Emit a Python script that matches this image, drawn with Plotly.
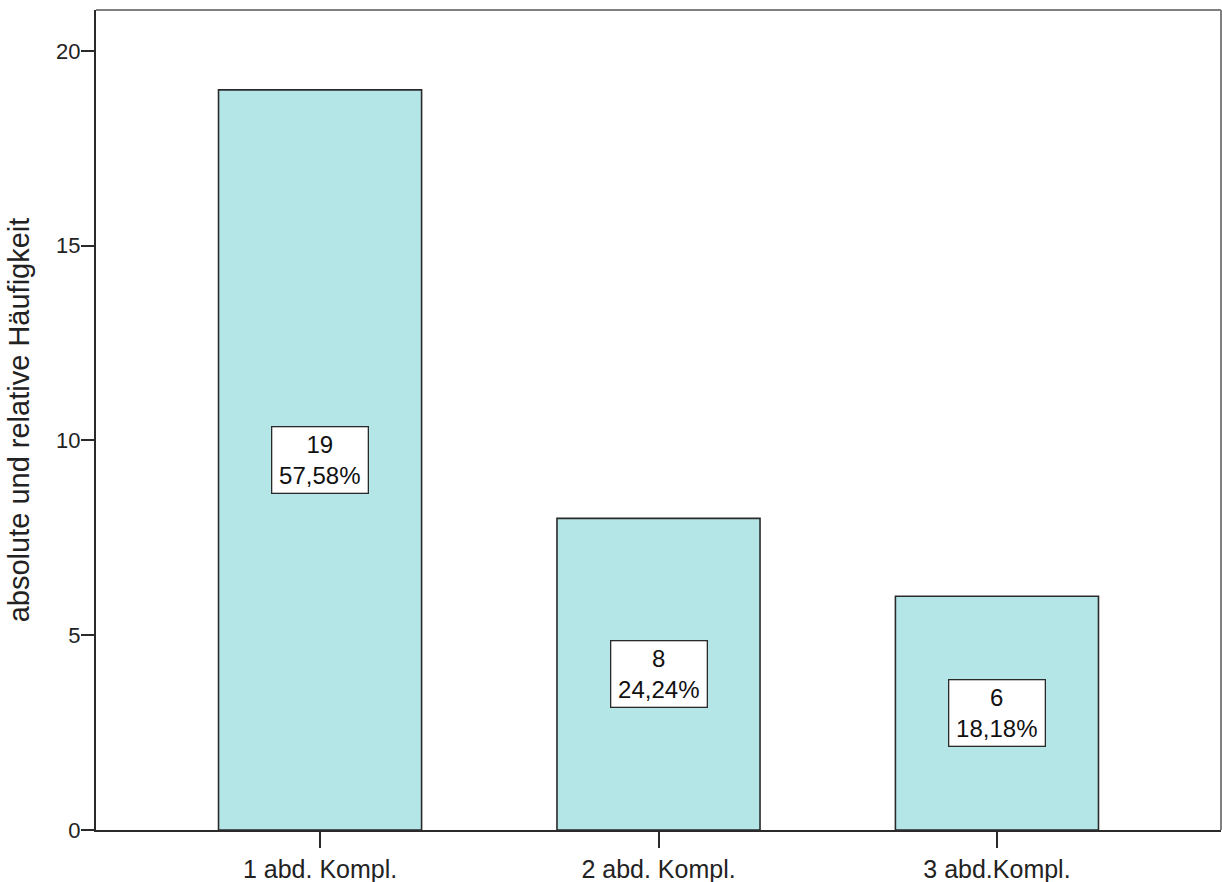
import plotly.graph_objects as go

# Anzahl der abdominellen Komplikationen
categories = ["1 abd. Kompl.", "2 abd. Kompl.", "3 abd.Kompl."]
counts = [19, 8, 6]
percent_labels = ["57,58%", "24,24%", "18,18%"]

y_ticks = [0, 5, 10, 15, 20]
y_title = "absolute und relative Häufigkeit"

bar_fill = "#B4E6E8"
dark = "#2a2a2a"
font_family = "Liberation Sans, Arial, sans-serif"

x_pos = list(range(len(categories)))

fig = go.Figure()
fig.add_trace(go.Bar(
    x=x_pos,
    y=counts,
    width=0.6,
    marker=dict(color=bar_fill, line=dict(color=dark, width=1.6)),
    hoverinfo="skip",
))

# Wertelabels (absolut und relativ) in der Mitte jedes Balkens
for xi, n, pct in zip(x_pos, counts, percent_labels):
    fig.add_annotation(
        x=xi, y=n / 2, xref="x", yref="y",
        text=f"{n}<br>{pct}",
        showarrow=False,
        font=dict(family=font_family, size=24, color="#111111"),
        align="center",
        bgcolor="white",
        bordercolor=dark,
        borderwidth=1.3,
        borderpad=1,
        width=93,
        height=63,
    )

# obere und rechte Rahmenlinie in Grau
fig.add_shape(type="line", xref="paper", yref="paper", x0=0, x1=1, y0=1, y1=1,
              line=dict(color="#808080", width=2))
fig.add_shape(type="line", xref="paper", yref="paper", x0=1, x1=1, y0=0, y1=1,
              line=dict(color="#808080", width=2))

fig.update_layout(
    width=1222, height=882,
    margin=dict(l=96, r=1, t=10, b=52),
    paper_bgcolor="white",
    plot_bgcolor="white",
    showlegend=False,
    bargap=0.4,
    font=dict(family=font_family, color="#222222"),
    xaxis=dict(
        range=[-0.662, 2.662],
        tickmode="array",
        tickvals=x_pos,
        ticktext=categories,
        ticks="outside",
        ticklen=16,
        tickwidth=1.6,
        tickcolor=dark,
        tickfont=dict(size=25),
        showline=True,
        linecolor=dark,
        linewidth=2,
        showgrid=False,
        zeroline=False,
        automargin=False,
    ),
    yaxis=dict(
        range=[0, 21.05],
        tickmode="array",
        tickvals=y_ticks,
        ticktext=[str(t) for t in y_ticks],
        ticks="outside",
        ticklen=13,
        tickwidth=1.6,
        tickcolor=dark,
        tickfont=dict(size=22),
        ticklabelstandoff=-4,
        showline=True,
        linecolor=dark,
        linewidth=2,
        showgrid=False,
        zeroline=False,
        automargin=False,
        title=dict(text=y_title, font=dict(size=29), standoff=18),
    ),
)

fig.write_html("out.html")
